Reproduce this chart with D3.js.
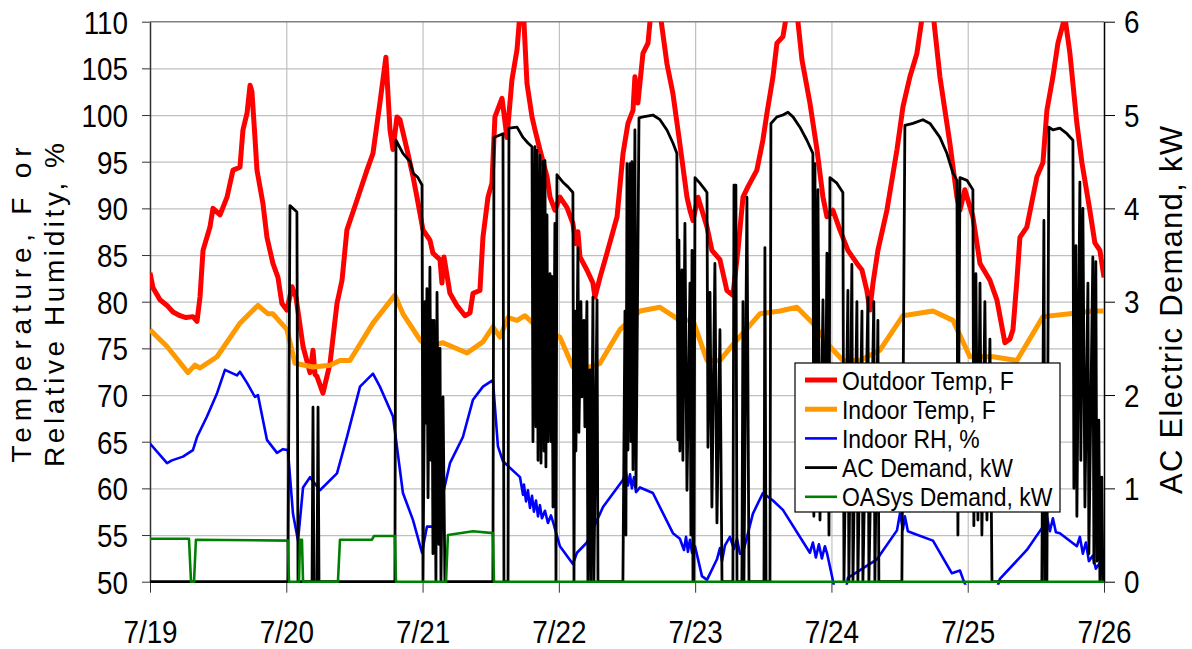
<!DOCTYPE html>
<html>
<head>
<meta charset="utf-8">
<script src="https://cdn.jsdelivr.net/npm/d3@7"></script>
<style>
  body { margin: 0; background: #fff; }
  svg { display: block; font-family: "Liberation Sans", Arial, sans-serif; }
</style>
</head>
<body>
<svg id="chart" width="1192" height="649"></svg>
<script>
// ---- data (x = days since 7/19 00:00) ----
const dayTicks  = [0, 1, 2, 3, 4, 5, 6, 7];
const dayLabels = ["7/19", "7/20", "7/21", "7/22", "7/23", "7/24", "7/25", "7/26"];
const tempTicks = [50, 55, 60, 65, 70, 75, 80, 85, 90, 95, 100, 105, 110];
const kwTicks   = [0, 1, 2, 3, 4, 5, 6];

const outdoorTemp = [[0,83.1],[0.022,81.5],[0.073,80.2],[0.125,79.6],[0.169,78.9],[0.22,78.5],[0.264,78.3],[0.315,78.4],[0.345,77.9],[0.367,80.5],[0.389,85.5],[0.44,88],[0.462,90],[0.514,89.3],[0.565,91.2],[0.609,94.1],[0.66,94.4],[0.682,98.4],[0.712,100.2],[0.734,103.2],[0.748,102.5],[0.77,97.6],[0.785,94.1],[0.829,90.5],[0.858,86.9],[0.902,84.1],[0.939,82.6],[0.968,79.8],[1.005,79.1],[1.042,81.6],[1.071,80.5],[1.123,75.2],[1.174,72.4],[1.196,74.8],[1.211,72.2],[1.225,72.0],[1.269,70.2],[1.321,73.4],[1.372,79.8],[1.409,82.3],[1.445,87.7],[1.519,90.9],[1.592,94.1],[1.636,95.9],[1.687,101.3],[1.731,106.2],[1.761,98.4],[1.783,96.3],[1.812,99.8],[1.834,99.5],[1.886,96.3],[1.93,93.4],[1.959,91.2],[2.003,87.7],[2.054,86.6],[2.076,85.2],[2.128,84.5],[2.142,82],[2.157,84.8],[2.201,80.9],[2.252,79.6],[2.311,78.5],[2.348,78.8],[2.37,80.9],[2.421,81.2],[2.443,86.9],[2.48,91.2],[2.509,92.7],[2.531,99.8],[2.583,101.8],[2.619,97.6],[2.656,103.8],[2.693,107],[2.715,111],[2.737,112],[2.766,103.4],[2.803,99.8],[2.825,98.4],[2.861,96.3],[2.913,93.4],[2.935,91.2],[2.971,89.8],[3.008,91.2],[3.059,90.1],[3.103,88.4],[3.125,86.2],[3.14,87.5],[3.155,84.8],[3.206,83.4],[3.25,82],[3.265,80.5],[3.302,82.6],[3.353,85.2],[3.427,89.1],[3.471,95.9],[3.507,99.1],[3.544,100.5],[3.558,104.1],[3.58,101.3],[3.617,106.6],[3.654,107.7],[3.675,111],[3.705,113],[3.742,111],[3.793,105.5],[3.837,102.3],[3.888,96.9],[3.94,91.2],[3.962,89.8],[3.984,88.7],[4.021,91.2],[4.087,88],[4.123,85.5],[4.182,84.5],[4.233,81.2],[4.277,80.7],[4.314,85.5],[4.351,91.2],[4.387,92.3],[4.453,94.1],[4.497,97.3],[4.527,100.2],[4.571,104.1],[4.6,107.7],[4.644,108.4],[4.674,111],[4.71,113],[4.747,111],[4.784,105.9],[4.842,101.3],[4.894,96.3],[4.938,91.2],[4.967,89.1],[5.011,89.8],[5.062,87.7],[5.121,85.5],[5.187,84.1],[5.224,83.4],[5.26,81.2],[5.282,79.1],[5.305,82],[5.341,85.5],[5.407,89.8],[5.481,96.3],[5.525,100.9],[5.576,104.1],[5.627,106.6],[5.671,111],[5.708,113],[5.745,111],[5.796,104.1],[5.869,97],[5.921,91.2],[5.943,89.8],[5.979,92],[6.038,89.1],[6.09,84.1],[6.163,82.3],[6.214,80.2],[6.273,75.6],[6.31,76],[6.332,77],[6.361,82.3],[6.383,86.9],[6.434,88],[6.508,93.4],[6.552,94.9],[6.581,100.5],[6.625,104.1],[6.662,107.7],[6.713,110.5],[6.75,106.6],[6.801,99.1],[6.838,94.9],[6.896,89.8],[6.933,86.3],[6.97,85.5],[7,82.6]];

const indoorTemp = [[0,77],[0.125,75.2],[0.279,72.4],[0.33,73.2],[0.367,72.9],[0.492,74.1],[0.66,77.7],[0.792,79.6],[0.866,78.7],[0.902,78.7],[1.005,77],[1.064,73.4],[1.196,73.0],[1.321,73.2],[1.394,73.7],[1.467,73.7],[1.636,77.7],[1.797,80.7],[1.856,78.7],[1.981,75.9],[2.032,75.2],[2.15,75.6],[2.326,74.5],[2.443,75.7],[2.516,77.3],[2.568,76.2],[2.627,78.3],[2.693,78],[2.751,78.5],[2.81,77.7],[3.008,76.2],[3.103,73],[3.206,72.9],[3.302,73.4],[3.448,77],[3.595,79],[3.742,79.4],[3.888,78],[3.984,78],[4.087,73.7],[4.182,73.7],[4.277,75.4],[4.475,78.7],[4.622,79],[4.747,79.4],[4.864,77.7],[4.989,75.2],[5.084,73.7],[5.209,73.7],[5.356,74.8],[5.525,78.5],[5.745,79],[5.892,78],[6.016,74.1],[6.185,74.1],[6.361,73.7],[6.552,78.4],[6.75,78.7],[6.918,79],[7,79]];

const indoorRH = [[0,64.8],[0.125,62.7],[0.161,63],[0.242,63.4],[0.315,64.1],[0.345,65.5],[0.418,67.7],[0.492,70.2],[0.55,72.7],[0.638,72.1],[0.66,72.5],[0.712,71.3],[0.77,69.8],[0.792,70.0],[0.858,65.2],[0.932,63.8],[0.976,64.2],[1.012,64.1],[1.049,57.3],[1.086,54.4],[1.123,60.1],[1.174,61.2],[1.247,59.8],[1.372,61.6],[1.445,65.5],[1.541,70.9],[1.636,72.3],[1.687,70.9],[1.783,67.7],[1.856,59.5],[1.93,56.6],[1.996,53.1],[2.032,55.9],[2.076,55.9],[2.128,58],[2.201,62.7],[2.296,65.5],[2.37,69.5],[2.443,70.9],[2.516,71.6],[2.553,64.5],[2.59,62.9],[2.715,61.2],[2.737,59.3],[2.744,60.4],[2.759,58.6],[2.773,59.8],[2.788,57.9],[2.803,59.2],[2.817,57.5],[2.832,58.7],[2.847,57],[2.861,58.2],[2.876,56.8],[2.898,57.6],[2.92,56.3],[2.942,57.1],[2.957,56.4],[3.008,53.8],[3.103,51.9],[3.133,53.1],[3.206,54.2],[3.324,58],[3.47,60.9],[3.492,61.8],[3.507,60.3],[3.522,61.5],[3.536,60.0],[3.551,61.2],[3.566,59.6],[3.595,60.1],[3.69,59.5],[3.837,55.2],[3.888,54.6],[3.918,53.4],[3.933,54.8],[3.947,53.2],[3.962,54.5],[3.977,53.1],[3.999,53.8],[4.05,50.6],[4.087,50.2],[4.16,52.4],[4.182,53.6],[4.197,52.2],[4.219,53.9],[4.255,54.8],[4.285,53.5],[4.307,54.6],[4.329,53],[4.351,53.1],[4.424,57.3],[4.497,59.5],[4.571,58.7],[4.644,57.7],[4.842,53.1],[4.864,54.2],[4.886,52.6],[4.908,54.0],[4.93,52.5],[4.952,53.8],[4.967,53.1],[5.004,50.6],[5.033,48.5],[5.099,48.5],[5.121,50.4],[5.334,52.4],[5.481,55.5],[5.503,57.3],[5.525,55.6],[5.539,57.0],[5.561,55.4],[5.598,55.2],[5.745,54.4],[5.884,50.9],[5.943,51.2],[5.965,50.3],[6.016,48.5],[6.199,48.5],[6.236,50.3],[6.434,53.4],[6.552,55.9],[6.581,57.0],[6.603,55.4],[6.625,56.8],[6.647,55.3],[6.676,55.2],[6.801,53.8],[6.823,54.8],[6.845,53.0],[6.867,54.2],[6.889,52.2],[6.918,52.8],[6.94,51.4],[6.97,52],[6.992,51]];

const acDemand = [[0,0],[1.012,0],[1.027,4.03],[1.078,3.96],[1.086,0],[1.189,0],[1.196,1.87],[1.203,0],[1.225,0],[1.233,1.87],[1.24,0],[1.797,0],[1.805,4.73],[1.856,4.59],[1.908,4.5],[1.93,4.38],[1.966,4.33],[1.996,4.25],[2.003,0],[2.018,3.0],[2.025,1.7],[2.032,3.14],[2.04,0.9],[2.054,3.37],[2.062,1.3],[2.069,2.8],[2.076,0.3],[2.084,2.8],[2.098,0],[2.106,3.1],[2.12,0.4],[2.128,2.5],[2.135,0],[2.15,1.98],[2.164,0],[2.516,0],[2.524,4.76],[2.59,4.8],[2.597,0],[2.627,0],[2.634,4.86],[2.693,4.87],[2.737,4.76],[2.773,4.7],[2.803,4.66],[2.81,1.5],[2.825,4.66],[2.832,1.66],[2.839,4.62],[2.847,1.3],[2.861,4.57],[2.869,1.27],[2.883,4.5],[2.891,1.4],[2.898,4.51],[2.905,1.23],[2.913,3.93],[2.92,1.5],[2.935,3.3],[2.942,1.5],[2.949,3.27],[2.957,0.8],[2.971,3.84],[2.979,0],[2.986,4.36],[3.03,4.28],[3.067,4.23],[3.103,4.17],[3.111,0],[3.118,2.9],[3.125,1.4],[3.14,3.58],[3.147,1.6],[3.162,3.0],[3.169,1.98],[3.184,2.8],[3.191,1.66],[3.206,3.0],[3.213,0],[3.228,2.27],[3.235,0],[3.25,3.05],[3.257,0],[3.28,3.02],[3.287,0],[3.47,0],[3.485,2.9],[3.492,0.5],[3.5,4.48],[3.507,1.41],[3.522,4.48],[3.529,1.5],[3.536,4.5],[3.544,1.2],[3.558,4.84],[3.566,1.01],[3.588,4.97],[3.617,4.98],[3.69,5.0],[3.742,4.95],[3.793,4.84],[3.837,4.7],[3.866,4.59],[3.874,1.52],[3.881,3.66],[3.888,1.4],[3.903,3.34],[3.91,1.3],[3.925,3.84],[3.94,0.98],[3.962,3.2],[3.969,0.5],[3.977,3.55],[3.984,0],[3.991,0],[3.999,4.33],[4.035,4.27],[4.072,4.2],[4.087,4.17],[4.094,1.44],[4.109,3.1],[4.123,0.8],[4.145,3.41],[4.16,0.63],[4.182,2.7],[4.197,0],[4.277,0],[4.285,4.25],[4.299,4.25],[4.307,0],[4.343,0],[4.351,3.0],[4.358,0],[4.38,4.12],[4.395,0],[4.505,0],[4.512,3.58],[4.52,0],[4.549,0],[4.556,4.91],[4.6,4.98],[4.644,5.0],[4.681,5.03],[4.718,4.98],[4.769,4.87],[4.82,4.73],[4.864,4.59],[4.871,0.7],[4.879,4.48],[4.886,0.9],[4.901,4.2],[4.916,0.66],[4.938,3.02],[4.952,0.8],[4.967,3.52],[4.982,0.5],[4.989,4.33],[5.04,4.27],[5.084,4.17],[5.092,0],[5.121,3.12],[5.128,0],[5.15,3.4],[5.158,0],[5.187,3.0],[5.194,0],[5.224,2.9],[5.231,0],[5.268,3.05],[5.275,0],[5.311,3.0],[5.319,0],[5.341,2.8],[5.348,0],[5.517,0],[5.539,4.89],[5.598,4.91],[5.671,4.95],[5.723,4.91],[5.796,4.76],[5.847,4.59],[5.891,4.38],[5.921,4.3],[5.928,0.5],[5.943,4.33],[5.994,4.3],[6.038,4.2],[6.045,0.6],[6.06,3.3],[6.075,0.66],[6.09,3.2],[6.104,0.5],[6.126,3.0],[6.141,0.66],[6.163,2.6],[6.178,0],[6.544,0],[6.559,3.87],[6.566,0],[6.581,0],[6.596,4.87],[6.625,4.84],[6.676,4.86],[6.728,4.8],[6.772,4.73],[6.779,1.0],[6.794,3.6],[6.801,0.7],[6.823,4.28],[6.83,1.3],[6.845,4.0],[6.86,0.8],[6.882,3.2],[6.889,0.3],[6.918,3.48],[6.926,0.2],[6.94,3.43],[6.948,0.22],[6.962,1.73],[6.97,0],[6.984,1.12],[6.992,0],[7,0]];

const oasysDemand = [[0,0.46],[0.286,0.46],[0.301,0],[0.323,0],[0.337,0.45],[1.012,0.44],[1.02,0],[1.093,0],[1.101,0.45],[1.115,0.45],[1.123,0],[1.379,0],[1.394,0.45],[1.629,0.45],[1.643,0.49],[1.797,0.49],[1.805,0],[2.172,0],[2.186,0.5],[2.37,0.54],[2.516,0.52],[2.524,0],[7,0]];

const seriesNames = ["Outdoor Temp, F", "Indoor Temp, F", "Indoor RH, %", "AC Demand, kW", "OASys Demand, kW"];

// ---- layout ----
const svg = d3.select("#chart"),
      margin = { top: 21.7, right: 88, bottom: 67.3, left: 150 },
      width  = 1192 - margin.left - margin.right,
      height = 649 - margin.top - margin.bottom;

const x  = d3.scaleLinear().domain([0, 7]).range([0, width]);
const y  = d3.scaleLinear().domain([50, 110]).range([height, 0]);
const y2 = d3.scaleLinear().domain([0, 6]).range([height, 0]);

const g = svg.append("g").attr("transform", `translate(${margin.left},${margin.top})`);

svg.append("defs").append("clipPath").attr("id", "plot")
  .append("rect").attr("x", 0).attr("y", 0).attr("width", width).attr("height", height + 3);

// gridlines
g.append("g")
  .call(d3.axisLeft(y).tickValues(tempTicks.slice(1, -1)).tickSize(-width).tickFormat(""))
  .call(a => a.select(".domain").remove())
  .selectAll("line").attr("stroke", "#c0c0c0").attr("stroke-width", 1.2);

g.append("g")
  .attr("transform", `translate(0,${height})`)
  .call(d3.axisBottom(x).tickValues(dayTicks.slice(1, -1)).tickSize(-height).tickFormat(""))
  .call(a => a.select(".domain").remove())
  .selectAll("line").attr("stroke", "#c0c0c0").attr("stroke-width", 1.2);

// top border
g.append("line").attr("x1", 0).attr("x2", width).attr("y1", 0).attr("y2", 0)
  .attr("stroke", "#808080").attr("stroke-width", 1.5);

// axes
const sx = 0.87;
const leftAxis = g.append("g")
  .call(d3.axisLeft(y).tickValues(tempTicks).tickSize(8).tickSizeOuter(0));
leftAxis.attr("font-size", 32).attr("font-family", null);
leftAxis.select(".domain").attr("stroke", "#333").attr("stroke-width", 1.5);
leftAxis.selectAll("line").attr("stroke", "#333");
leftAxis.selectAll("text")
  .attr("x", -22 / sx).attr("dy", "11.5px").attr("transform", `scale(${sx},1)`).attr("fill", "#000");

const rightAxis = g.append("g")
  .attr("transform", `translate(${width},0)`)
  .call(d3.axisRight(y2).tickValues(kwTicks).tickFormat(d3.format("d")).tickSize(11).tickSizeOuter(0));
rightAxis.attr("font-size", 32).attr("font-family", null);
rightAxis.select(".domain").attr("stroke", "#000").attr("stroke-width", 1.5);
rightAxis.selectAll("text")
  .attr("x", 20 / sx).attr("dy", "11px").attr("transform", `scale(${sx},1)`).attr("fill", "#000");

const bottomAxis = g.append("g")
  .attr("transform", `translate(0,${height})`)
  .call(d3.axisBottom(x).tickValues(dayTicks).tickFormat((d, i) => dayLabels[i]).tickSize(11).tickSizeOuter(0));
bottomAxis.attr("font-size", 32).attr("font-family", null);
bottomAxis.select(".domain").attr("stroke", "#000");
bottomAxis.selectAll("line").attr("stroke", "#333");
bottomAxis.selectAll("text")
  .attr("y", 61.3).attr("dy", 0).attr("transform", `scale(${sx},1)`).attr("fill", "#000");

// axis titles
svg.append("text")
  .attr("transform", "translate(31,305) rotate(-90)")
  .attr("text-anchor", "middle").attr("font-size", 28)
  .attr("textLength", 315).attr("lengthAdjust", "spacing")
  .text("Temperature, F or");
svg.append("text")
  .attr("transform", "translate(64,305) rotate(-90)")
  .attr("text-anchor", "middle").attr("font-size", 28)
  .attr("textLength", 324).attr("lengthAdjust", "spacing")
  .text("Relative Humidity, %");
svg.append("text")
  .attr("transform", "translate(1182,310) rotate(-90)")
  .attr("text-anchor", "middle").attr("font-size", 31)
  .attr("textLength", 368).attr("lengthAdjust", "spacing")
  .text("AC Electric Demand, kW");

// series
const lineT = d3.line().x(d => x(d[0])).y(d => y(d[1]));
const lineK = d3.line().x(d => x(d[0])).y(d => y2(d[1]));

const series = [
  { data: outdoorTemp, line: lineT, color: "#ff0000", w: 5 },
  { data: indoorTemp,  line: lineT, color: "#ff9900", w: 5 },
  { data: indoorRH,    line: lineT, color: "#0000ff", w: 2.6 },
  { data: acDemand,    line: lineK, color: "#000000", w: 2.8 },
  { data: oasysDemand, line: lineK, color: "#008000", w: 2.6 }
];

const plot = g.append("g").attr("clip-path", "url(#plot)");
series.forEach(s => {
  plot.append("path")
    .datum(s.data)
    .attr("fill", "none")
    .attr("stroke", s.color)
    .attr("stroke-width", s.w)
    .attr("stroke-linejoin", "round")
    .attr("d", s.line);
});

// legend
const legend = svg.append("g").attr("transform", "translate(795,363)");
legend.append("rect").attr("width", 265).attr("height", 149)
  .attr("fill", "#fff").attr("stroke", "#000").attr("stroke-width", 1.2);
seriesNames.forEach((name, i) => {
  const cy = 17 + i * 29.2;
  legend.append("line")
    .attr("x1", 10).attr("x2", 42).attr("y1", cy).attr("y2", cy)
    .attr("stroke", series[i].color).attr("stroke-width", series[i].w);
  legend.append("text")
    .attr("transform", `translate(47,${cy + 9.5}) scale(0.9,1)`)
    .attr("font-size", 25.5)
    .text(name);
});
</script>
</body>
</html>
